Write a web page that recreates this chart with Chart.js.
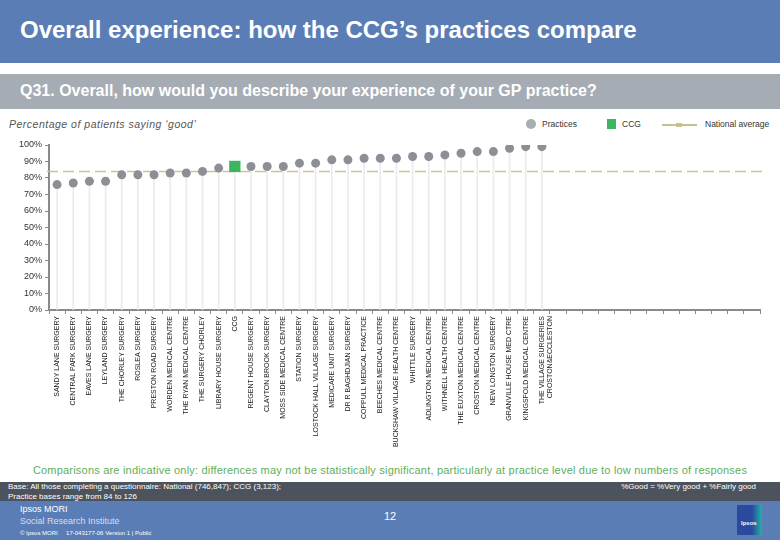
<!DOCTYPE html>
<html>
<head>
<meta charset="utf-8">
<script src="https://cdn.jsdelivr.net/npm/chart.js@4"></script>
<style>
  body { margin:0; width:780px; height:540px; position:relative; overflow:hidden; background:#fff; font-family:"Liberation Sans", Arial, sans-serif; }
  .abs { position:absolute; }
  #titleBar { left:0; top:0; width:780px; height:63px; background:#5b7db5; }
  #title { left:20px; top:16px; color:#fff; font-size:24px; font-weight:bold; }
  #qBar { left:0; top:74px; width:780px; height:35px; background:#a6acb4; }
  #q { left:20px; top:82px; color:#fff; font-size:16px; font-weight:bold; }
  #sub { left:9px; top:118px; color:#555; font-size:10.5px; font-style:italic; letter-spacing:0.5px; }
  .leg { top:119px; font-size:8.5px; color:#333; }
  #chartBox { left:0; top:130px; width:780px; height:330px; }
  #note { left:0; top:464px; width:780px; text-align:center; color:#5fae5a; font-size:11px; letter-spacing:0.2px; }
  #baseBar { left:0; top:482px; width:780px; height:19px; background:#4d535c; }
  #bottomBar { left:0; top:501px; width:780px; height:39px; background:#5b7db5; }
  .small { color:#fff; font-size:8px; }
</style>
</head>
<body>
<div id="titleBar" class="abs"></div>
<div id="title" class="abs">Overall experience: how the CCG’s practices compare</div>
<div id="qBar" class="abs"></div>
<div id="q" class="abs">Q31. Overall, how would you describe your experience of your GP practice?</div>
<div id="sub" class="abs">Percentage of patients saying ‘good’</div>

<div class="abs" style="left:526px;top:119px;width:10px;height:10px;border-radius:50%;background:#a8adb3"></div>
<div class="abs leg" style="left:542px">Practices</div>
<div class="abs" style="left:607px;top:119px;width:9px;height:10px;background:#3db55e"></div>
<div class="abs leg" style="left:622px">CCG</div>
<div class="abs" style="left:662px;top:124px;width:35px;height:2px;background:#c8c090"></div>
<div class="abs" style="left:676px;top:123px;width:6px;height:4px;background:#c8c090"></div>
<div class="abs leg" style="left:705px">National average</div>

<div id="chartBox" class="abs"><canvas id="chart"></canvas></div>

<div id="note" class="abs">Comparisons are indicative only: differences may not be statistically significant, particularly at practice level due to low numbers of responses</div>
<div id="baseBar" class="abs"></div>
<div class="abs small" style="left:8px;top:482px">Base: All those completing a questionnaire: National (746,847); CCG (3,123);</div>
<div class="abs small" style="left:8px;top:492px">Practice bases range from 84 to 126</div>
<div class="abs small" style="right:24px;top:482px">%Good = %Very good + %Fairly good</div>
<div id="bottomBar" class="abs"></div>
<div class="abs" style="left:20px;top:504px;color:#fff;font-size:9px">Ipsos MORI</div>
<div class="abs" style="left:20px;top:516px;color:#d8def0;font-size:9px">Social Research Institute</div>
<div class="abs" style="left:20px;top:530px;color:#fff;font-size:6px">© Ipsos MORI &nbsp;&nbsp;&nbsp; 17-043177-06 Version 1 | Public</div>
<div class="abs" style="left:384px;top:510px;color:#fff;font-size:11px">12</div>
<div class="abs" style="left:737px;top:505px;width:25px;height:30px;background:linear-gradient(90deg,#2a4aa0 60%,#1fb5a0)"></div>
<div class="abs" style="left:741px;top:520px;color:#fff;font-size:6px;font-weight:bold">Ipsos</div>

<script>
// practices sorted by score, CCG sits in its rank position
var practiceNames = [
  'SANDY LANE SURGERY', 'CENTRAL PARK SURGERY', 'EAVES LANE SURGERY', 'LEYLAND SURGERY',
  'THE CHORLEY SURGERY', 'ROSLEA SURGERY', 'PRESTON ROAD SURGERY', 'WORDEN MEDICAL CENTRE',
  'THE RYAN MEDICAL CENTRE', 'THE SURGERY CHORLEY', 'LIBRARY HOUSE SURGERY', 'CCG',
  'REGENT HOUSE SURGERY', 'CLAYTON BROOK SURGERY', 'MOSS SIDE MEDICAL CENTRE', 'STATION SURGERY',
  'LOSTOCK HALL VILLAGE SURGERY', 'MEDICARE UNIT SURGERY', 'DR R BAGHDJIAN SURGERY',
  'COPPULL MEDICAL PRACTICE', 'BEECHES MEDICAL CENTRE', 'BUCKSHAW VILLAGE HEALTH CENTRE',
  'WHITTLE SURGERY', 'ADLINGTON MEDICAL CENTRE', 'WITHNELL HEALTH CENTRE',
  'THE EUXTON MEDICAL CENTRE', 'CROSTON MEDICAL CENTRE', 'NEW LONGTON SURGERY',
  'GRANVILLE HOUSE MED CTRE', 'KINGSFOLD MEDICAL CENTRE',
  ['THE VILLAGE SURGERIES', 'CROSTON&ECCLESTON']
];
var practiceScores = [76, 77, 78, 78, 82, 82, 82, 83, 83, 84, 86, null,
  87, 87, 87, 89, 89, 91, 91, 92, 92, 92, 93, 93, 94, 95, 96, 96, 98, 99, 99];
var ccgName = 'CCG';
var ccgScore = 87;
var nationalAverage = 84;
var blankSlots = 13;   // empty space on the right of the axis
var yTicks = [0, 10, 20, 30, 40, 50, 60, 70, 80, 90, 100];

var labels = practiceNames.slice();
for (var i = 0; i < blankSlots; i++) labels.push('');

var ccgIdx = practiceNames.indexOf(ccgName);
var ccgData = labels.map(function(l, i){ return i === ccgIdx ? ccgScore : null; });
var dotData = labels.map(function(l, i){ return i < practiceScores.length ? practiceScores[i] : null; });
var stemData = labels.map(function(l, i){ return i === ccgIdx ? ccgScore : dotData[i]; });

var axisGrey = '#8a8a8a';

var natLine = {
  id: 'natLine',
  beforeDatasetsDraw: function(chart){
    var ctx = chart.ctx, a = chart.chartArea;
    var y = chart.scales.y.getPixelForValue(nationalAverage);
    ctx.save();
    ctx.strokeStyle = '#cbc493';
    ctx.lineWidth = 1.5;
    ctx.setLineDash([11, 5]);
    ctx.beginPath();
    ctx.moveTo(a.left - 2, y);
    ctx.lineTo(a.right + 3, y);
    ctx.stroke();
    ctx.restore();
  }
};

new Chart(document.getElementById('chart'), {
  type: 'bar',
  data: {
    labels: labels,
    datasets: [
      { type: 'line', label: 'CCG', data: ccgData, showLine: false, pointStyle: 'rect',
        pointRadius: 8, pointBackgroundColor: '#3db55e', pointBorderWidth: 0, order: 0 },
      { type: 'line', label: 'Practices', data: dotData, showLine: false, pointStyle: 'circle',
        pointRadius: 4.5, pointBackgroundColor: '#8c9096', pointBorderWidth: 0, order: 1 },
      { label: 'stems', data: stemData, backgroundColor: '#ebebeb', barThickness: 1, order: 3 }
    ]
  },
  plugins: [natLine],
  options: {
    responsive: true,
    maintainAspectRatio: false,
    animation: false,
    layout: { padding: { top: 15, right: 20, left: 0, bottom: 0 } },
    plugins: { legend: { display: false }, tooltip: { enabled: false } },
    scales: {
      x: {
        offset: true,
        grid: { offset: true, drawOnChartArea: false, drawTicks: true, tickLength: 4, color: axisGrey },
        border: { color: axisGrey, width: 2 },
        ticks: { autoSkip: false, minRotation: 90, maxRotation: 90, padding: 2, color: '#222',
          font: { family: 'Liberation Sans', size: 7 } },
        afterFit: function(s){ s.height = 150; }
      },
      y: {
        min: 0, max: 100,
        afterBuildTicks: function(s){ s.ticks = yTicks.map(function(v){ return { value: v }; }); },
        grid: { drawOnChartArea: false, drawTicks: true, tickLength: 4, color: axisGrey },
        border: { color: axisGrey, width: 2 },
        ticks: { color: '#333', padding: 3, font: { family: 'Liberation Sans', size: 9 },
          callback: function(v){ return v + '%'; } },
        afterFit: function(s){ s.width = 49; }
      }
    }
  }
});
</script>
</body>
</html>
